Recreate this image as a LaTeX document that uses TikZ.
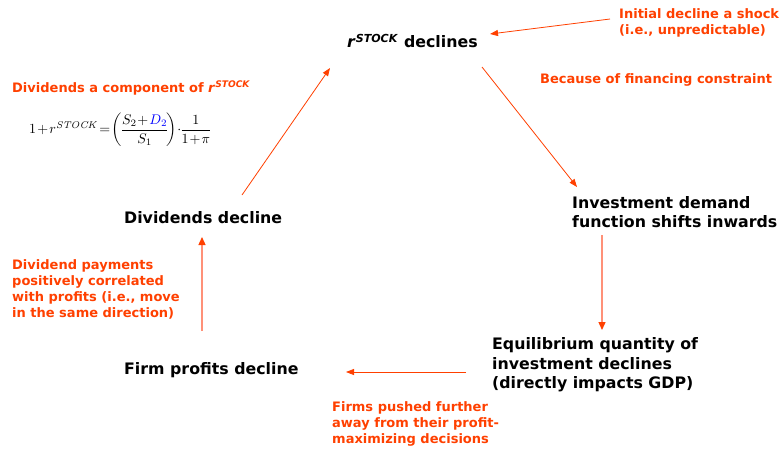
\documentclass[tikz,border=0pt]{standalone}
\usepackage{amsmath}
\usepackage{graphicx}
\usepackage[no-math]{fontspec}
\setmainfont{DejaVu Sans}
\usetikzlibrary{arrows.meta}
\definecolor{redtxt}{RGB}{255,64,0}
\definecolor{lightred}{RGB}{255,145,120}
\begin{document}
\begin{tikzpicture}[x=1pt,y=-1pt,
  blk/.style={font=\fontsize{15.8}{19.5}\selectfont\bfseries, text=black, align=left, inner sep=0pt},
  note/.style={font=\fontsize{13}{16}\selectfont\bfseries, text=redtxt, align=left, inner sep=0pt},
  arr/.style={draw=redtxt, line width=0.8pt, -{Triangle[length=8pt,width=6pt,color=redtxt]}},
  varr/.style={draw=lightred, line width=1.3pt, -{Triangle[length=8pt,width=7pt,color=redtxt]}}]
\useasboundingbox[fill=white] (0,0) rectangle (784,448);

\node[blk, anchor=west] (rs) at (347,41) {\textit{r}\textsuperscript{\textit{STOCK}} declines};
\node[note, anchor=west] (shock) at (619,23) {Initial decline a shock\\(i.e., unpredictable)};
\node[note, anchor=west] (fin) at (540,80) {Because of financing constraint};
\node[blk, anchor=west] (inv) at (572,212) {Investment demand\\function shifts inwards};
\node[blk, anchor=west] (eq) at (492,365) {Equilibrium quantity of\\investment declines\\(directly impacts GDP)};
\node[blk, anchor=west] (fp) at (124,370) {Firm profits decline};
\node[note, anchor=west] (push) at (332,424) {Firms pushed further\\away from their profit-\\maximizing decisions};
\node[note, anchor=west] (divpay) at (12,289) {Dividend payments\\positively correlated\\with profits (i.e., move\\in the same direction)};
\node[blk, anchor=west] (dd) at (124,218) {Dividends decline};
\node[note, anchor=west] (comp) at (12,88) {Dividends a component of \textit{r}\textsuperscript{\textit{STOCK}}};
\node[anchor=west, inner sep=0pt] (formula) at (29,130) {\resizebox{181pt}{!}{\thinmuskip=1mu\medmuskip=1.5mu\thickmuskip=2mu\nulldelimiterspace=0pt\scriptspace=0pt$1+r^{\mathit{STOCK}}=\left(\dfrac{S_2+\textcolor{blue}{D_2}}{S_1}\right)\!\cdot\!\dfrac{1}{1+\pi}$}};

\coordinate (shockTail) at (610,19);
\coordinate (rsHead) at (490,34);
\coordinate (rsTail) at (482,67);
\coordinate (invHead) at (577,187);
\coordinate (invTail) at (602,235);
\coordinate (eqHead) at (602,330);
\coordinate (eqTail) at (466,372);
\coordinate (fpHead) at (346,372);
\coordinate (fpTail) at (202,331);
\coordinate (ddHead) at (202,237);
\coordinate (ddTail) at (242,195);
\coordinate (rsHead2) at (330,68);

\draw[arr] (shockTail) -- (rsHead);
\draw[arr] (rsTail) -- (invHead);
\draw[varr] (invTail) -- (eqHead);
\draw[arr] (eqTail) -- (fpHead);
\draw[varr] (fpTail) -- (ddHead);
\draw[arr] (ddTail) -- (rsHead2);
\end{tikzpicture}
\end{document}
